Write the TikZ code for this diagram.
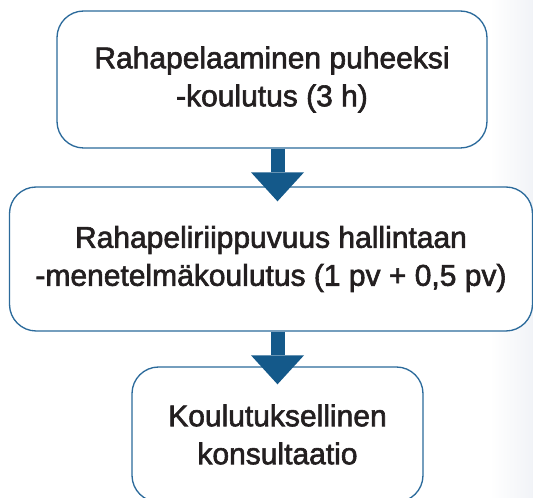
\documentclass[tikz,border=0pt]{standalone}
\usepackage{fontspec}
\setmainfont{Liberation Sans}
\newfontfamily\coursefont{Liberation Sans}[FakeBold=2]
\usetikzlibrary{arrows.meta}
\definecolor{Course Blue}{HTML}{14598A}
\definecolor{Box Line}{HTML}{2B6A9B}
\definecolor{Course Text}{HTML}{231F20}
\definecolor{Slide Gray}{HTML}{F1F3F7}

\begin{document}
\begin{tikzpicture}[x=0.75pt, y=-0.75pt]

  \tikzstyle{course}=[draw=Box Line, line width=1pt, fill=white, rounded corners=20pt,
                      align=center, text=Course Text, inner sep=0pt,
                      font=\coursefont\fontsize{22.5}{28.5}\selectfont]
  \tikzstyle{flow}=[draw=Course Blue, line width=10.5pt,
                    -{Triangle[width=39.75pt, length=21.75pt, line width=0pt]}]

  \clip (0,0) rectangle (533,498);

  % faint slide background at the right edge
  \shade[left color=white, right color=Slide Gray] (490,0) rectangle (533,498);

  % Draw the course boxes
  \node[course, minimum width=322.5pt, minimum height=102.75pt] (puheeksi) at (272,79.5)
      {Rahapelaaminen puheeksi\\-koulutus (3 h)};
  \node[course, minimum width=392.25pt, minimum height=108pt] (hallintaan) at (271,259)
      {Rahapeliriippuvuus hallintaan\\-menetelmäkoulutus (1 pv + 0,5 pv)};
  \node[course, minimum width=218.25pt, minimum height=101.25pt] (konsultaatio) at (277.5,434.5)
      {Koulutuksellinen\\konsultaatio};

  % Connect every course with the next one
  \foreach \source/\dest/\reach in {puheeksi/hallintaan/11.25pt, hallintaan/konsultaatio/13.5pt}
      \draw[flow, shorten >=-\reach] (\source.south -| konsultaatio.north) -- (\dest.north -| konsultaatio.north);

\end{tikzpicture}
\end{document}
